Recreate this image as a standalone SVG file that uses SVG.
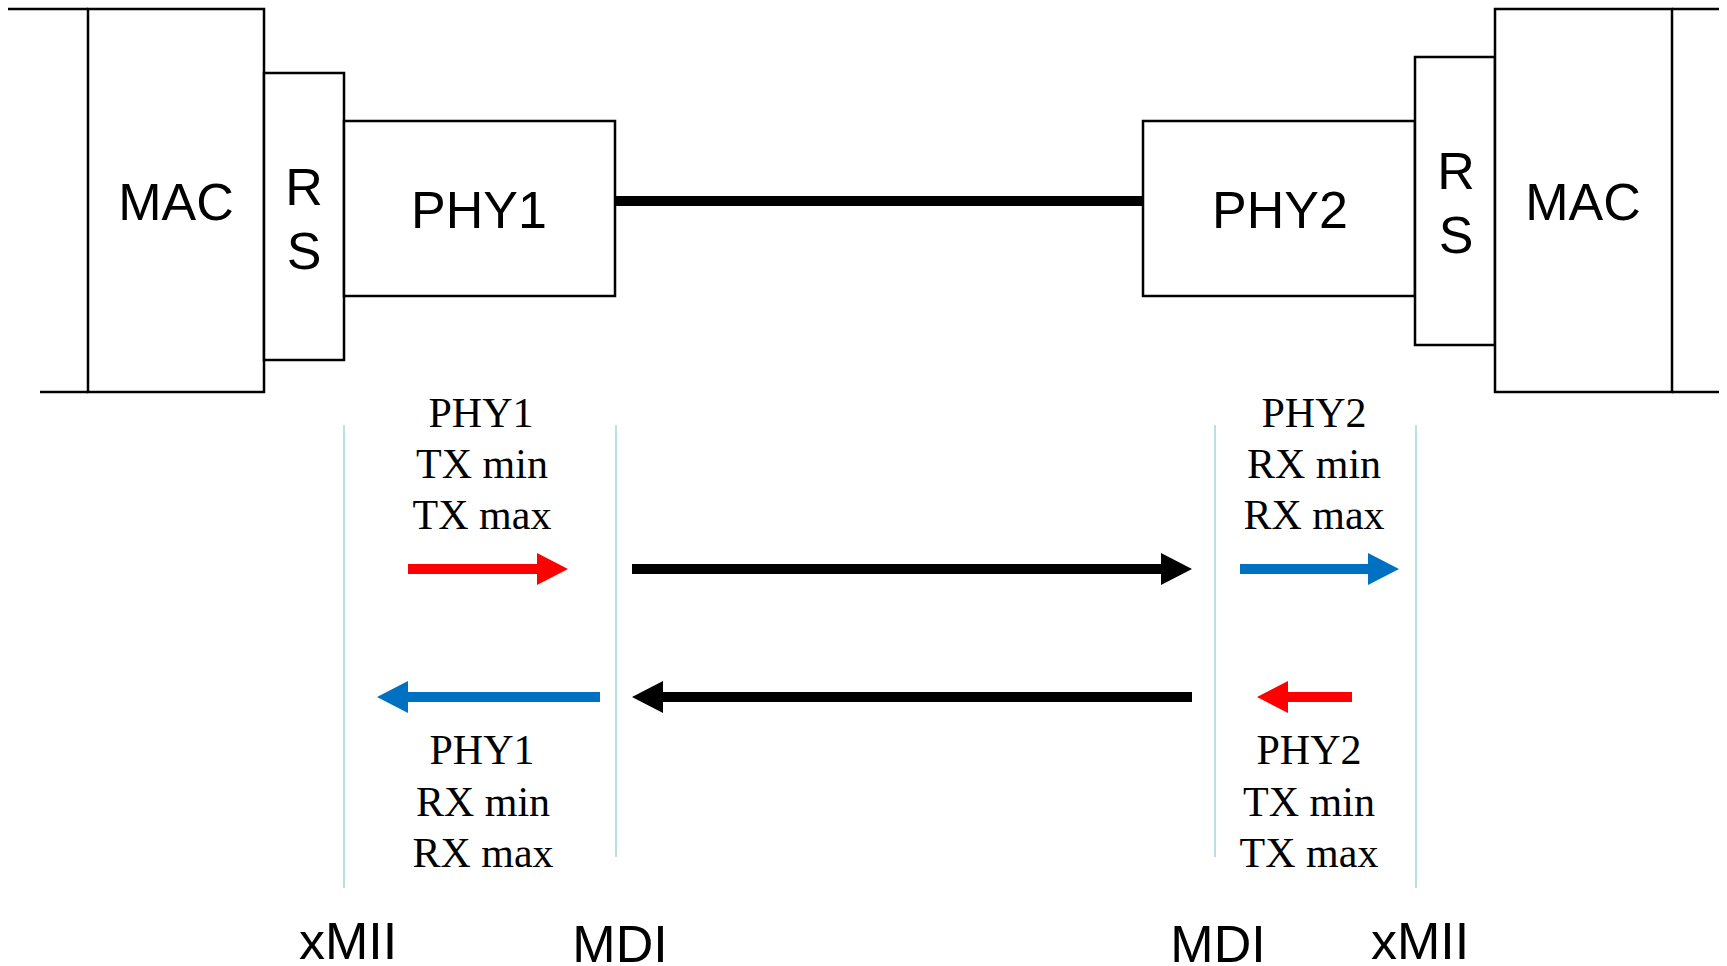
<svg xmlns="http://www.w3.org/2000/svg" width="1727" height="966" viewBox="0 0 1727 966">
<style>
.box{fill:#fff;stroke:#000;stroke-width:2.5}
.edge{stroke:#000;stroke-width:2.5;fill:none}
.ref{stroke:#b4dce4;stroke-width:1.8;fill:none}
.sans{font-family:"Liberation Sans",Arial,sans-serif;font-size:52px;fill:#000;text-anchor:middle}
.serif{font-family:"Liberation Serif","Times New Roman",serif;font-size:42px;fill:#000;text-anchor:middle}
</style>
<rect width="1727" height="966" fill="#fff"/>
<g id="connectors">
<line class="edge" x1="8" y1="9" x2="88" y2="9"/>
<line class="edge" x1="40" y1="392" x2="88" y2="392"/>
<line class="edge" x1="1672" y1="9" x2="1719" y2="9"/>
<line class="edge" x1="1672" y1="392" x2="1719" y2="392"/>
<line x1="615" y1="201" x2="1143" y2="201" stroke="#000" stroke-width="10"/>
<line class="ref" x1="344" y1="425" x2="344" y2="888"/>
<line class="ref" x1="616" y1="425" x2="616" y2="857"/>
<line class="ref" x1="1215" y1="425" x2="1215" y2="857"/>
<line class="ref" x1="1416" y1="425" x2="1416" y2="888"/>
<polygon fill="#ff0000" points="408,564 537,564 537,553 568,569 537,585 537,574 408,574"/>
<polygon fill="#000" points="632,564 1161,564 1161,553 1192,569 1161,585 1161,574 632,574"/>
<polygon fill="#0070c0" points="1240,564 1368,564 1368,553 1399,569 1368,585 1368,574 1240,574"/>
<polygon fill="#0070c0" points="600,692 408,692 408,681 377,697 408,713 408,702 600,702"/>
<polygon fill="#000" points="1192,692 663,692 663,681 632,697 663,713 663,702 1192,702"/>
<polygon fill="#ff0000" points="1352,692 1288,692 1288,681 1257,697 1288,713 1288,702 1352,702"/>
</g>
<g id="mac-left">
<rect class="box" x="88" y="9" width="176" height="383"/>
<text class="sans" x="176" y="220">MAC</text>
</g>
<g id="rs-left">
<rect class="box" x="264" y="73" width="80" height="287"/>
<text class="sans" x="304" y="205">R</text>
<text class="sans" x="304" y="269">S</text>
</g>
<g id="phy1">
<rect class="box" x="344" y="121" width="271" height="175"/>
<text class="sans" x="479" y="228">PHY1</text>
</g>
<g id="phy2">
<rect class="box" x="1143" y="121" width="272" height="175"/>
<text class="sans" x="1280" y="228">PHY2</text>
</g>
<g id="rs-right">
<rect class="box" x="1415" y="57" width="80" height="288"/>
<text class="sans" x="1456" y="189">R</text>
<text class="sans" x="1456" y="253">S</text>
</g>
<g id="mac-right">
<rect class="box" x="1495" y="9" width="177" height="383"/>
<text class="sans" x="1583" y="220">MAC</text>
</g>
<g id="labels">
<text class="serif" x="481" y="427">PHY1</text>
<text class="serif" x="482" y="478">TX min</text>
<text class="serif" x="482" y="529">TX max</text>
<text class="serif" x="1314" y="427">PHY2</text>
<text class="serif" x="1314" y="478">RX min</text>
<text class="serif" x="1314" y="529">RX max</text>
<text class="serif" x="482" y="764">PHY1</text>
<text class="serif" x="483" y="816">RX min</text>
<text class="serif" x="483" y="867">RX max</text>
<text class="serif" x="1309" y="764">PHY2</text>
<text class="serif" x="1309" y="816">TX min</text>
<text class="serif" x="1309" y="867">TX max</text>
<text class="sans" x="348" y="959">xMII</text>
<text class="sans" x="620" y="962">MDI</text>
<text class="sans" x="1218" y="962">MDI</text>
<text class="sans" x="1420" y="959">xMII</text>
</g>
</svg>
